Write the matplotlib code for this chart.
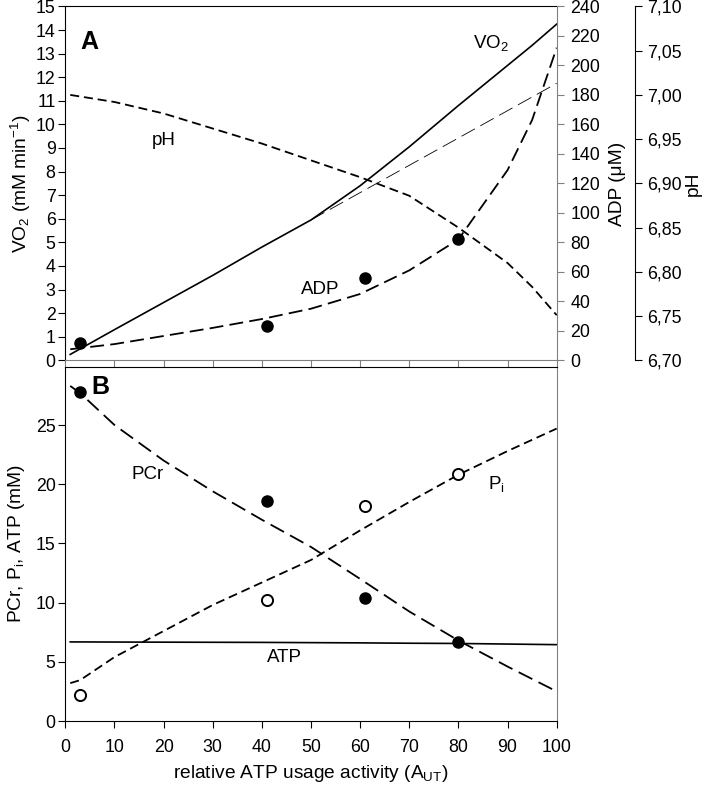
import numpy as np
import matplotlib
matplotlib.use('Agg')
import matplotlib.pyplot as plt

plt.rcParams['font.family'] = ['Liberation Sans', 'DejaVu Sans']
plt.rcParams['mathtext.default'] = 'regular'
plt.rcParams['font.size'] = 12.8
plt.rcParams['lines.scale_dashes'] = False

# panel A: model curves
x_curve = [1, 10, 20, 30, 40, 50, 60, 70, 80, 90, 95, 100]
vo2 = [0.25, 1.3, 2.45, 3.6, 4.8, 5.95, 7.4, 9.05, 10.8, 12.5, 13.35, 14.25]
vo2_lin_x = [50, 100]
vo2_lin = [5.95, 11.74]
adp = [7.5, 11, 16.5, 22, 28, 35, 45, 61, 82, 129, 163, 212]
ph = [7.000, 6.992, 6.979, 6.962, 6.945, 6.926, 6.907, 6.886, 6.850, 6.810, 6.783, 6.751]

# panel A: measured ADP
x_meas = [3, 41, 61, 80]
adp_meas = [12, 23.3, 55.6, 82]

# panel B: model curves
x_b = [1, 3, 10, 20, 30, 40, 50, 60, 70, 80, 90, 100]
pcr = [28.3, 27.7, 25.0, 22.0, 19.4, 17.0, 14.7, 12.0, 9.25, 6.8, 4.6, 2.5]
pi = [3.2, 3.45, 5.4, 7.6, 9.8, 11.7, 13.6, 16.1, 18.5, 20.8, 22.8, 24.7]
atp = [6.68, 6.68, 6.67, 6.66, 6.65, 6.64, 6.62, 6.6, 6.57, 6.55, 6.5, 6.45]

# panel B: measured
pcr_meas = [27.8, 18.6, 10.4, 6.7]
pi_meas = [2.2, 10.2, 18.2, 20.9]

ph_ticks = [6.70, 6.75, 6.80, 6.85, 6.90, 6.95, 7.00, 7.05, 7.10]

gray = '#808080'
lab = 13.8
txt = 13.5

fig = plt.figure(figsize=(7.07, 7.85), dpi=100)
axA = fig.add_axes([0.0924, 0.541, 0.695, 0.4508])
axB = fig.add_axes([0.0924, 0.0815, 0.695, 0.451])

# ---- panel A
axA.plot(x_curve, vo2, color='black', lw=1.2)
axA.plot(vo2_lin_x, vo2_lin, color='black', lw=0.6, dashes=(11, 4.5))
axA.set_xlim(0, 100)
axA.set_ylim(0, 15)
axA.set_yticks(range(0, 16))
axA.set_xticks(range(0, 101, 10))
axA.tick_params(axis='x', labelbottom=False, direction='out', length=5, color=gray)
axA.tick_params(axis='y', direction='out', length=5, pad=2)
axA.set_ylabel('VO$_2$ (mM min$^{-1}$)', fontsize=lab, labelpad=2)
axA.spines['bottom'].set_color(gray)
axA.spines['right'].set_visible(False)

axADP = axA.twinx()
axADP.plot(x_curve, adp, color='black', lw=1.3, dashes=(10, 4.5))
axADP.plot(x_meas, adp_meas, 'o', color='black', ms=8)
axADP.set_ylim(0, 240)
axADP.set_yticks(range(0, 241, 20))
axADP.tick_params(axis='y', direction='out', length=5, color=gray, pad=5)
axADP.spines['right'].set_color(gray)
for s in ['top', 'left', 'bottom']:
    axADP.spines[s].set_visible(False)
axADP.set_ylabel('ADP (\u03bcM)', fontsize=lab, labelpad=6)

axPH = axA.twinx()
axPH.plot(x_curve, ph, color='black', lw=1.3, dashes=(6.5, 3.5))
axPH.set_ylim(6.70, 7.10)
axPH.set_yticks(ph_ticks)
axPH.set_yticklabels([('%.2f' % v).replace('.', ',') for v in ph_ticks])
axPH.spines['right'].set_position(('axes', 1.159))
for s in ['top', 'left', 'bottom']:
    axPH.spines[s].set_visible(False)
axPH.tick_params(axis='y', direction='out', length=5, pad=4)
axPH.set_ylabel('pH', fontsize=lab, labelpad=2)

axA.text(3, 13.5, 'A', fontsize=18, fontweight='bold', va='center')
axA.text(83, 13.45, 'VO$_2$', fontsize=txt, va='center')
axA.text(17.6, 9.3, 'pH', fontsize=txt, va='center')
axA.text(48, 3.0, 'ADP', fontsize=txt, va='center')

# ---- panel B
axB.plot(x_b, pcr, color='black', lw=1.3, dashes=(11, 5))
axB.plot(x_b, pi, color='black', lw=1.3, dashes=(6.5, 3.5))
axB.plot(x_b, atp, color='black', lw=1.2)
axB.plot(x_meas, pcr_meas, 'o', color='black', ms=8)
axB.plot(x_meas, pi_meas, 'o', mfc='white', mec='black', mew=1.4, ms=8)
axB.set_xlim(0, 100)
axB.set_ylim(0, 29.9)
axB.set_yticks(range(0, 26, 5))
axB.set_xticks(range(0, 101, 10))
axB.tick_params(direction='out', length=5)
axB.tick_params(axis='x', pad=8)
axB.tick_params(axis='y', pad=2)
axB.spines['right'].set_color(gray)
axB.set_ylabel('PCr, P$_i$, ATP (mM)', fontsize=lab, labelpad=6)
axB.set_xlabel('relative ATP usage activity (A$_{UT}$)', fontsize=lab, labelpad=5)

axB.text(5.4, 28.2, 'B', fontsize=18, fontweight='bold', va='center')
axB.text(13.5, 20.8, 'PCr', fontsize=txt, va='center')
axB.text(41, 5.4, 'ATP', fontsize=txt, va='center')
axB.text(86, 20.0, 'P$_i$', fontsize=txt, va='center')

fig.savefig('out.png', dpi=100)
